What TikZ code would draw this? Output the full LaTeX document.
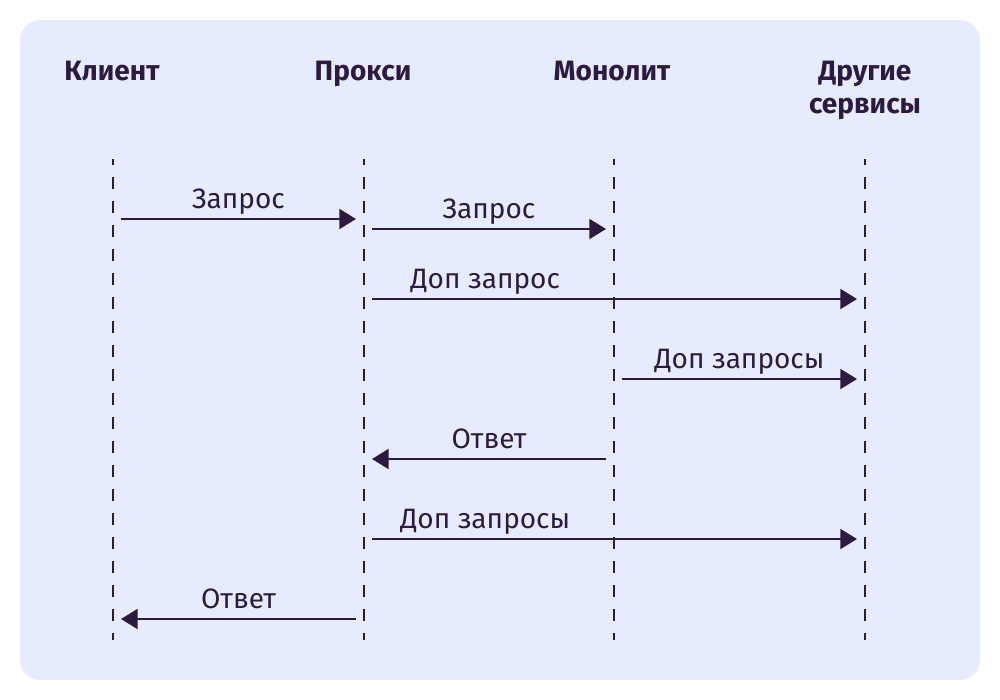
\documentclass[tikz,border=0pt]{standalone}
\usepackage{fontspec}
\setmainfont{Fira Sans}
\usetikzlibrary{arrows.meta}
\definecolor{bgblue}{HTML}{E6ECFE}
\definecolor{ink}{HTML}{2D1B3F}
\tikzset{
  head/.style={font=\fontsize{21}{24.75}\selectfont\bfseries, text=ink, align=center, inner sep=0pt, anchor=base},
  lbl/.style={font=\fontsize{21}{24}\selectfont, text=ink, inner sep=0pt, anchor=base, yshift=7.9pt},
  life/.style={draw=ink, line width=1.5pt, dash pattern=on 9pt off 9pt, dash phase=4.5pt},
  msg/.style={draw=ink, line width=1.5pt, -{Triangle[length=12.5pt,width=15pt]}, shorten <=6pt, shorten >=6pt},
}
\begin{document}
\begin{tikzpicture}[x=0.75pt,y=-0.75pt]
\useasboundingbox (0,0) rectangle (1000,700);
\fill[bgblue, rounded corners=15pt] (20,20) rectangle (980,680);
\node[head] (h1) at (112,80) {Клиент};
\node[head] (h2) at (363,80) {Прокси};
\node[head] (h3) at (612,80) {Монолит};
\node[head] (h4) at (865,113) {Другие\\сервисы};
\foreach \i/\x in {1/113,2/364,3/614,4/865}{
  \coordinate (t\i) at (\x,159);
  \coordinate (b\i) at (\x,640);
  \draw[life] (t\i) -- (b\i);
}
% messages
\draw[msg] (t1 |- 0,219) -- node[lbl] {Запрос} (t2 |- 0,219);
\draw[msg] (t2 |- 0,229) -- node[lbl] {Запрос} (t3 |- 0,229);
\draw[msg] (t2 |- 0,299) -- node[lbl, pos=0.242] {Доп запрос} (t4 |- 0,299);
\draw[msg] (t3 |- 0,379) -- node[lbl] {Доп запросы} (t4 |- 0,379);
\draw[msg] (t3 |- 0,459) -- node[lbl] {Ответ} (t2 |- 0,459);
\draw[msg] (t2 |- 0,539) -- node[lbl, pos=0.242] {Доп запросы} (t4 |- 0,539);
\draw[msg] (t2 |- 0,619) -- node[lbl] {Ответ} (t1 |- 0,619);
\end{tikzpicture}
\end{document}
